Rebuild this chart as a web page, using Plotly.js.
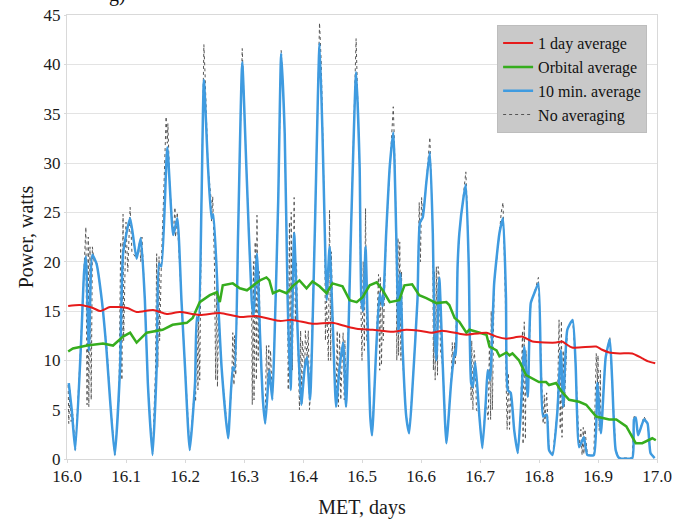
<!DOCTYPE html>
<html>
<head>
<meta charset="utf-8">
<script src="https://cdn.plot.ly/plotly-3.0.1.min.js"></script>
<style>
html,body{margin:0;padding:0;background:#fff;}
#chart{width:673px;height:519px;}
</style>
</head>
<body>
<div id="chart"></div>
<script>
// ---- data ----
const xTickVals = [16.0,16.1,16.2,16.3,16.4,16.5,16.6,16.7,16.8,16.9,17.0];
const yTickVals = [0,5,10,15,20,25,30,35,40,45];

const dayAvgDays  = [16.002,16.022,16.044,16.056,16.073,16.102,16.118,16.146,16.169,16.191,16.225,16.259,16.293,16.321,16.360,16.382,16.416,16.450,16.470,16.491,16.518,16.552,16.575,16.597,16.619,16.636,16.665,16.677,16.711,16.728,16.745,16.772,16.789,16.829,16.839,16.856,16.897,16.906,16.919,16.937,16.958,16.975,16.985,16.997];
const dayAvgWatts = [15.5,15.6,15.3,15.0,15.4,15.3,14.9,15.1,14.7,14.9,14.6,14.8,14.4,14.5,14.0,14.1,13.7,13.8,13.5,13.2,13.1,12.9,13.1,13.0,12.8,13.0,12.7,12.6,12.8,12.4,12.2,12.4,11.9,11.8,11.9,11.3,11.4,11.1,10.8,10.7,10.7,10.2,9.9,9.7];

const orbitDays  = [16.002,16.010,16.034,16.061,16.078,16.095,16.107,16.118,16.135,16.162,16.179,16.203,16.213,16.220,16.225,16.242,16.254,16.259,16.264,16.281,16.293,16.305,16.315,16.327,16.338,16.343,16.349,16.360,16.372,16.382,16.394,16.406,16.416,16.428,16.440,16.450,16.467,16.474,16.479,16.491,16.501,16.513,16.525,16.535,16.547,16.563,16.572,16.585,16.597,16.609,16.626,16.643,16.648,16.657,16.665,16.677,16.682,16.694,16.711,16.716,16.728,16.733,16.745,16.750,16.755,16.766,16.778,16.800,16.812,16.817,16.829,16.839,16.851,16.868,16.880,16.897,16.919,16.931,16.948,16.964,16.975,16.992,16.998];
const orbitWatts = [10.9,11.2,11.5,11.7,11.5,12.4,12.8,11.8,12.8,13.1,13.6,13.8,14.3,15.3,15.9,16.6,16.9,15.9,17.6,17.8,17.3,17.1,17.6,18.1,18.4,18.1,16.8,17.1,16.8,17.5,18.1,17.3,18.0,17.5,16.8,17.8,17.5,16.6,16.1,15.9,16.4,17.6,17.9,17.1,15.9,16.1,17.6,17.7,16.6,16.3,15.8,15.9,15.6,14.3,13.9,12.8,13.1,12.9,12.6,11.4,11.0,10.4,10.8,10.5,10.7,10.0,8.5,7.8,7.8,7.5,7.7,6.8,6.0,5.8,5.5,4.3,4.0,4.0,3.3,1.6,1.6,2.1,1.9];

const tenMinDays  = [16.003,16.008,16.014,16.024,16.029,16.032,16.037,16.043,16.050,16.059,16.067,16.073,16.081,16.090,16.095,16.107,16.118,16.125,16.132,16.137,16.145,16.152,16.156,16.160,16.170,16.180,16.187,16.194,16.200,16.208,16.217,16.220,16.223,16.228,16.232,16.239,16.245,16.248,16.256,16.262,16.273,16.281,16.284,16.290,16.297,16.304,16.313,16.316,16.322,16.327,16.332,16.336,16.341,16.343,16.348,16.352,16.358,16.363,16.369,16.374,16.379,16.385,16.391,16.397,16.403,16.407,16.412,16.420,16.428,16.433,16.437,16.440,16.445,16.451,16.456,16.462,16.468,16.473,16.482,16.490,16.496,16.499,16.502,16.506,16.510,16.514,16.517,16.524,16.530,16.535,16.541,16.547,16.553,16.558,16.562,16.565,16.569,16.575,16.580,16.586,16.594,16.598,16.603,16.609,16.615,16.620,16.623,16.626,16.631,16.637,16.643,16.651,16.657,16.659,16.662,16.665,16.672,16.676,16.681,16.685,16.688,16.692,16.699,16.704,16.710,16.713,16.717,16.724,16.733,16.739,16.744,16.747,16.752,16.758,16.764,16.769,16.775,16.781,16.786,16.792,16.799,16.803,16.807,16.813,16.817,16.823,16.831,16.837,16.841,16.848,16.857,16.862,16.868,16.876,16.882,16.893,16.899,16.905,16.913,16.920,16.924,16.930,16.936,16.958,16.961,16.964,16.968,16.978,16.984,16.989,16.996];
const tenMinWatts = [7.7,5.0,0.9,12.0,19.0,20.5,11.0,20.7,19.8,16.1,11.0,6.0,0.4,9.3,20.8,24.4,20.3,22.4,16.1,7.7,0.4,9.3,19.8,19.5,31.6,22.7,24.4,16.1,9.3,0.9,7.7,14.4,14.0,26.2,38.4,29.6,24.4,24.8,16.1,9.3,2.1,9.3,9.0,22.9,40.2,29.6,16.1,14.5,20.8,12.8,6.0,3.6,7.7,9.0,6.0,12.8,26.2,41.1,33.0,16.1,7.0,22.9,12.8,5.5,9.3,10.3,6.0,22.9,42.1,33.0,22.9,16.1,21.5,12.8,5.3,9.3,11.8,5.3,24.5,39.2,29.6,16.1,15.0,21.5,12.8,4.3,2.4,11.0,16.8,15.5,22.9,29.6,33.1,22.9,12.8,18.8,11.0,4.3,2.6,7.7,16.1,23.9,24.5,28.0,31.1,22.9,12.8,10.0,18.4,9.3,1.6,7.7,11.0,10.5,19.5,22.9,26.5,27.8,19.5,7.7,7.3,9.8,4.3,1.1,6.0,9.0,8.0,17.8,22.9,24.4,16.4,7.0,6.7,2.9,0.6,4.7,11.4,6.3,15.8,16.8,17.8,9.7,4.3,4.5,0.9,0.4,4.7,11.0,5.3,13.1,14.1,9.7,1.2,2.2,0.4,0.4,7.7,2.6,10.3,12.1,8.0,0.9,0.1,0.1,4.0,4.2,2.4,4.0,3.6,0.6,0.1];

const rawDays  = [16.002,16.003,16.005,16.007,16.010,16.014,16.022,16.029,16.032,16.034,16.036,16.037,16.039,16.041,16.043,16.046,16.051,16.059,16.068,16.073,16.081,16.088,16.091,16.093,16.095,16.096,16.100,16.103,16.107,16.110,16.118,16.123,16.125,16.127,16.132,16.137,16.145,16.150,16.152,16.154,16.156,16.157,16.160,16.164,16.168,16.170,16.171,16.174,16.180,16.183,16.184,16.187,16.188,16.194,16.200,16.208,16.217,16.218,16.220,16.222,16.223,16.225,16.228,16.230,16.232,16.234,16.237,16.239,16.244,16.245,16.247,16.249,16.250,16.252,16.254,16.255,16.257,16.262,16.273,16.279,16.281,16.283,16.284,16.286,16.290,16.297,16.299,16.304,16.313,16.314,16.316,16.317,16.319,16.321,16.322,16.324,16.326,16.327,16.332,16.336,16.338,16.340,16.342,16.343,16.345,16.348,16.352,16.358,16.363,16.366,16.369,16.374,16.375,16.377,16.379,16.380,16.382,16.385,16.387,16.389,16.391,16.394,16.396,16.398,16.399,16.403,16.404,16.407,16.409,16.411,16.412,16.420,16.425,16.428,16.431,16.433,16.437,16.438,16.440,16.443,16.445,16.447,16.448,16.451,16.456,16.458,16.460,16.462,16.464,16.468,16.470,16.471,16.473,16.482,16.486,16.490,16.492,16.496,16.498,16.500,16.502,16.504,16.506,16.508,16.510,16.514,16.517,16.524,16.528,16.530,16.531,16.533,16.535,16.536,16.541,16.547,16.553,16.555,16.558,16.559,16.561,16.562,16.564,16.566,16.567,16.569,16.575,16.580,16.586,16.594,16.597,16.599,16.601,16.603,16.609,16.615,16.617,16.620,16.621,16.623,16.624,16.626,16.628,16.629,16.631,16.633,16.637,16.643,16.651,16.653,16.655,16.657,16.658,16.662,16.665,16.672,16.676,16.678,16.681,16.683,16.685,16.686,16.688,16.690,16.692,16.694,16.699,16.704,16.710,16.714,16.716,16.718,16.719,16.721,16.724,16.733,16.736,16.739,16.741,16.743,16.744,16.746,16.748,16.750,16.752,16.758,16.764,16.769,16.772,16.773,16.775,16.777,16.778,16.781,16.786,16.792,16.799,16.803,16.805,16.807,16.809,16.810,16.813,16.815,16.817,16.823,16.831,16.834,16.836,16.838,16.839,16.841,16.843,16.848,16.857,16.862,16.868,16.871,16.873,16.875,16.876,16.878,16.882,16.893,16.897,16.899,16.900,16.902,16.904,16.905,16.913,16.920,16.924,16.930,16.936,16.958,16.961,16.964,16.968,16.978,16.984,16.989,16.996];
const rawWatts = [7.5,3.6,7.0,3.8,4.5,0.9,10.0,19.0,23.5,5.5,22.5,5.3,21.5,6.0,21.5,20.0,19.8,16.0,11.0,6.0,0.4,6.0,22.0,8.0,24.8,12.0,24.0,19.0,25.5,21.0,20.3,22.0,20.0,22.5,16.0,7.7,0.4,9.0,20.8,9.3,20.5,12.0,20.0,27.0,34.7,32.0,34.0,28.0,22.7,25.5,22.5,25.0,23.0,16.0,9.3,0.9,7.7,5.8,14.4,7.0,14.5,8.0,26.2,37.0,42.0,39.0,33.0,29.6,26.5,24.0,26.6,20.0,19.5,8.0,18.0,7.3,15.0,9.3,2.1,7.3,12.8,7.5,12.5,8.5,22.9,41.6,38.0,29.6,16.0,5.5,20.0,6.0,22.0,8.0,24.7,10.0,19.0,12.8,6.0,3.6,11.5,7.0,11.5,7.5,11.0,6.0,12.8,26.2,41.4,38.0,33.0,16.0,7.0,24.0,7.0,25.0,9.0,26.5,14.0,20.0,12.8,5.0,13.0,5.5,12.0,9.3,13.0,10.3,13.0,5.0,6.0,22.9,38.0,44.2,40.0,33.0,22.9,12.0,16.0,10.0,25.2,10.0,21.0,12.8,5.3,13.0,5.3,12.8,6.0,12.8,6.0,12.0,5.3,24.5,35.0,42.6,38.0,29.6,16.0,10.0,20.0,11.0,25.4,12.0,12.8,4.3,2.4,11.0,18.7,9.0,18.5,9.5,17.0,12.0,22.9,29.6,35.7,32.0,22.9,10.0,22.4,10.5,22.0,10.0,19.0,10.0,4.3,2.6,7.7,16.1,26.0,20.0,26.5,24.5,28.0,32.6,29.0,22.9,9.0,19.0,8.0,19.5,8.5,19.5,18.4,11.0,9.3,1.6,7.7,11.8,9.2,11.8,9.5,19.5,22.9,26.5,29.1,26.0,19.5,11.5,6.0,12.0,5.0,11.0,9.8,5.0,4.3,1.1,6.0,4.0,12.0,4.0,15.0,5.0,17.8,22.9,25.0,26.0,22.0,16.4,8.7,3.0,8.7,3.0,6.7,2.9,0.6,4.7,13.0,1.5,13.9,2.0,11.0,6.3,15.8,16.8,18.4,9.7,6.7,3.6,6.5,3.6,6.7,3.5,0.9,0.4,4.7,14.1,3.0,14.0,2.2,11.0,5.3,13.1,14.2,9.7,1.2,3.0,0.4,3.2,0.5,3.0,0.4,0.4,10.7,7.7,10.5,2.9,9.0,2.6,10.3,12.4,8.0,0.9,0.1,0.1,4.3,4.2,2.4,4.3,3.6,0.6,0.1];

const seriesNames = ['1 day average','Orbital average','10 min. average','No averaging'];
const titleFragment = 'g)';

// ---- traces ----
const serif = 'Liberation Serif';
const traces = [
  {x: rawDays, y: rawWatts, name: seriesNames[3], type: 'scatter', mode: 'lines', legendrank: 4,
   line: {color: '#555555', width: 1, dash: 'dot'}},
  {x: tenMinDays, y: tenMinWatts, name: seriesNames[2], type: 'scatter', mode: 'lines', legendrank: 3,
   line: {color: '#3f9be0', width: 2.5, shape: 'spline', smoothing: 0.5}},
  {x: orbitDays, y: orbitWatts, name: seriesNames[1], type: 'scatter', mode: 'lines', legendrank: 2,
   line: {color: '#36ad1e', width: 2.5}},
  {x: dayAvgDays, y: dayAvgWatts, name: seriesNames[0], type: 'scatter', mode: 'lines', legendrank: 1,
   line: {color: '#e61b1b', width: 2, shape: 'spline', smoothing: 0.6}}
];

const layout = {
  width: 673, height: 519,
  margin: {l: 67, r: 16, t: 15, b: 60},
  paper_bgcolor: '#ffffff', plot_bgcolor: '#ffffff',
  font: {family: serif, size: 17, color: '#1a1a1a'},
  showlegend: true,
  legend: {x: 0.729, y: 0.977, xanchor: 'left', yanchor: 'top',
           bgcolor: '#c9c9c9', bordercolor: '#bdbdbd', borderwidth: 1,
           font: {family: serif, size: 16, color: '#111'}, itemwidth: 30},
  xaxis: {range: [16, 17], tickvals: xTickVals, ticktext: xTickVals.map(v => v.toFixed(1)),
          showgrid: false, zeroline: false, showline: true, linecolor: '#d9d9d9', linewidth: 1, mirror: true,
          ticks: 'outside', ticklen: 3, tickcolor: '#d9d9d9', ticklabelstandoff: -1,
          tickfont: {family: serif, size: 17, color: '#1a1a1a'},
          title: {text: 'MET, days', font: {family: serif, size: 20, color: '#1a1a1a'}, standoff: 14}},
  yaxis: {range: [0, 45], tickvals: yTickVals,
          showgrid: true, gridcolor: '#e3e3e3', gridwidth: 1, zeroline: false,
          showline: true, linecolor: '#d9d9d9', linewidth: 1, mirror: true,
          ticks: 'outside', ticklen: 2, tickcolor: '#d9d9d9',
          tickfont: {family: serif, size: 17, color: '#1a1a1a'},
          title: {text: 'Power, watts', font: {family: serif, size: 20, color: '#1a1a1a'}, standoff: 4}},
  annotations: [{text: titleFragment, xref: 'paper', yref: 'paper', x: 0.086, y: 1.047,
                 xanchor: 'center', yanchor: 'middle', showarrow: false,
                 font: {family: serif, size: 20, color: '#111'}}]
};

Plotly.newPlot('chart', traces, layout, {displayModeBar: false, staticPlot: true});
</script>
</body>
</html>
